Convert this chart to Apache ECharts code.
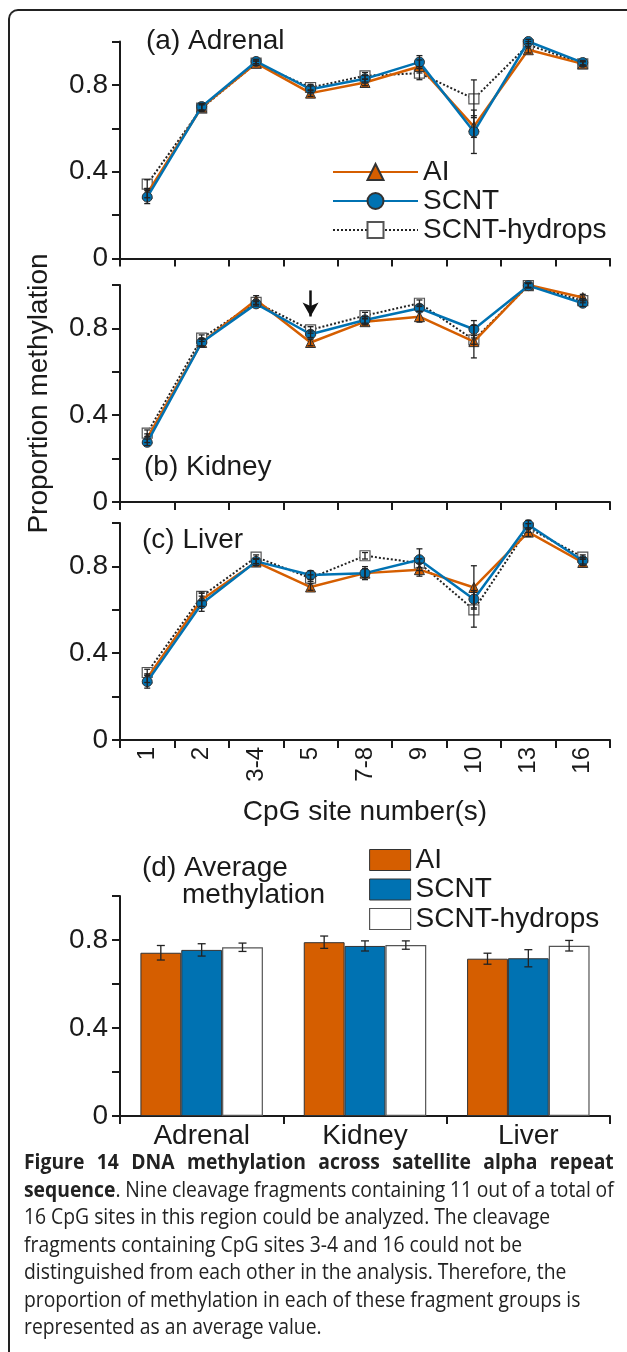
<!DOCTYPE html>
<html>
<head>
<meta charset="utf-8">
<script src="https://cdn.jsdelivr.net/npm/echarts@6/dist/echarts.min.js"></script>
<style>
  html, body { margin: 0; padding: 0; background: #fff; overflow: hidden; }
  #frame { position: absolute; left: 8px; top: 9px; width: 700px; height: 1400px;
    border-top: 2px solid #222; border-left: 2px solid #222; border-top-left-radius: 10px; }
  #chart { position: absolute; left: 0; top: 0; width: 627px; height: 1352px; }
  #caption { position: absolute; left: 24px; top: 1148px; width: 641px;
    font-family: 'Open Sans', sans-serif; font-size: 21px; line-height: 27.5px; color: #222;
    transform: scaleX(0.92); transform-origin: 0 0; }
  #caption div { white-space: nowrap; }
  #caption .just { text-align: justify; text-align-last: justify; white-space: normal; word-spacing: -3px; }
</style>
</head>
<body>
<div id="frame"></div>
<div id="chart"></div>
<div id="caption">
  <div class="just"><b>Figure 14 DNA methylation across satellite alpha repeat</b></div>
  <div class="just"><b>sequence</b>. Nine cleavage fragments containing 11 out of a total of</div>
  <div>16 CpG sites in this region could be analyzed. The cleavage</div>
  <div>fragments containing CpG sites 3-4 and 16 could not be</div>
  <div>distinguished from each other in the analysis. Therefore, the</div>
  <div>proportion of methylation in each of these fragment groups is</div>
  <div>represented as an average value.</div>
</div>
<script>
// CpG sites (x categories of panels a-c)
const sites = ['1', '2', '3-4', '5', '7-8', '9', '10', '13', '16'];

// (a) Adrenal
const adrenalAI = [0.30, 0.697, 0.90, 0.762, 0.811, 0.885, 0.608, 0.962, 0.897];
const adrenalSCNT = [0.283, 0.70, 0.908, 0.78, 0.828, 0.905, 0.584, 1.0, 0.903];
const adrenalHyd = [0.343, 0.693, 0.90, 0.788, 0.842, 0.854, 0.736, 0.985, 0.897];
const adrenalAIErr = [0.02, 0.015, 0.01, 0.015, 0.015, 0.03, 0.05, 0.015, 0.01];
const adrenalSCNTErr = [0.03, 0.015, 0.01, 0.015, 0.015, 0.03, 0.10, 0.01, 0.01];
const adrenalHydErr = [0.02, 0.015, 0.01, 0.015, 0.015, 0.03, 0.087, 0.015, 0.01];

// (b) Kidney
const kidneyAI = [0.294, 0.735, 0.931, 0.735, 0.831, 0.854, 0.739, 1.0, 0.942];
const kidneySCNT = [0.275, 0.735, 0.913, 0.773, 0.839, 0.893, 0.796, 0.997, 0.916];
const kidneyHyd = [0.317, 0.755, 0.92, 0.793, 0.859, 0.916, 0.747, 0.997, 0.928];
const kidneyAIErr = [0.02, 0.02, 0.02, 0.015, 0.015, 0.025, 0.075, 0.01, 0.015];
const kidneySCNTErr = [0.015, 0.015, 0.01, 0.015, 0.015, 0.015, 0.04, 0.01, 0.015];
const kidneyHydErr = [0.015, 0.015, 0.01, 0.015, 0.015, 0.015, 0.02, 0.01, 0.01];

// (c) Liver
const liverAI = [0.285, 0.646, 0.82, 0.705, 0.769, 0.785, 0.703, 0.958, 0.818];
const liverSCNT = [0.269, 0.628, 0.823, 0.76, 0.769, 0.831, 0.649, 0.992, 0.826];
const liverHyd = [0.311, 0.662, 0.843, 0.746, 0.849, 0.815, 0.60, 0.977, 0.843];
const liverAIErr = [0.02, 0.03, 0.015, 0.015, 0.02, 0.03, 0.10, 0.02, 0.015];
const liverSCNTErr = [0.03, 0.035, 0.01, 0.02, 0.03, 0.05, 0.04, 0.02, 0.015];
const liverHydErr = [0.015, 0.02, 0.01, 0.015, 0.015, 0.02, 0.08, 0.02, 0.01];

// (d) Average methylation
const tissues = ['Adrenal', 'Kidney', 'Liver'];
const avgAI = [0.742, 0.79, 0.715];
const avgSCNT = [0.755, 0.773, 0.717];
const avgHyd = [0.767, 0.777, 0.774];
const avgAIErr = [0.033, 0.028, 0.025];
const avgSCNTErr = [0.028, 0.023, 0.039];
const avgHydErr = [0.019, 0.019, 0.024];

const yTicks = ['0', '0.4', '0.8'];

const ORANGE = '#d55e00';
const BLUE = '#0072b2';
const INK = '#1a1a1a';
const FONT = '"Liberation Sans", Arial, Helvetica';

var myChart = echarts.init(document.getElementById('chart'));

function yAxisOf(gridIndex, extra) {
  return Object.assign({
    type: 'value', gridIndex: gridIndex, min: 0, max: 1, interval: 0.2,
    splitLine: { show: false },
    axisLine: { show: true, lineStyle: { color: INK, width: 2 } },
    axisTick: { show: true, length: 8, lineStyle: { color: INK, width: 2 } },
    axisLabel: {
      fontSize: 28, fontFamily: FONT, color: INK, margin: 12,
      formatter: function (v) {
        const s = String(Math.round(v * 10) / 10);
        return yTicks.indexOf(s) >= 0 ? s : '';
      }
    }
  }, extra || {});
}

function xAxisOf(gridIndex, data, labels, extra) {
  return Object.assign({
    type: 'category', gridIndex: gridIndex, data: data, boundaryGap: true,
    axisLine: { show: true, lineStyle: { color: INK, width: 2 } },
    axisTick: { show: true, length: 8, interval: 0, lineStyle: { color: INK, width: 2 } },
    axisLabel: labels
  }, extra || {});
}

function lineSeries(name, idx, data) {
  const base = { name: name, type: 'line', xAxisIndex: idx, yAxisIndex: idx, data: data, symbolSize: 10 };
  if (name === 'AI') {
    return Object.assign(base, { z: 3, symbol: 'triangle', color: ORANGE,
      lineStyle: { color: ORANGE, width: 2.5 },
      itemStyle: { color: ORANGE, borderColor: '#333', borderWidth: 1 } });
  }
  if (name === 'SCNT') {
    return Object.assign(base, { z: 4, symbol: 'circle', color: BLUE,
      lineStyle: { color: BLUE, width: 2.5 },
      itemStyle: { color: BLUE, borderColor: '#333', borderWidth: 1 } });
  }
  return Object.assign(base, { z: 2, symbol: 'rect', symbolSize: 10, color: '#222',
    lineStyle: { color: '#222', width: 2, type: 'dotted' },
    itemStyle: { color: '#fff', borderColor: '#555', borderWidth: 1.2 } });
}

function errSeries(idx, values, errs, offsetFrac, cap) {
  return {
    type: 'custom', xAxisIndex: idx, yAxisIndex: idx, z: 6, silent: true,
    data: values.map(function (v, i) { return [i, v, errs[i]]; }),
    encode: { x: 0, y: 1 },
    renderItem: function (params, api) {
      const i = api.value(0), v = api.value(1), e = api.value(2);
      const top = api.coord([i, v + e]);
      const bot = api.coord([i, v - e]);
      const w = api.size([1, 0])[0];
      const x = top[0] + w * offsetFrac;
      const st = { stroke: '#222', lineWidth: 1.3 };
      return { type: 'group', children: [
        { type: 'line', shape: { x1: x, y1: top[1], x2: x, y2: bot[1] }, style: st },
        { type: 'line', shape: { x1: x - cap, y1: top[1], x2: x + cap, y2: top[1] }, style: st },
        { type: 'line', shape: { x1: x - cap, y1: bot[1], x2: x + cap, y2: bot[1] }, style: st }
      ] };
    }
  };
}

var option;
option = {
  animation: false,
  backgroundColor: 'transparent',
  textStyle: { fontFamily: FONT, color: INK },
  grid: [
    { left: 120, top: 41.5, width: 490, height: 217 },
    { left: 120, top: 285, width: 490, height: 217 },
    { left: 120, top: 523, width: 490, height: 217 },
    { left: 120, top: 896, width: 490, height: 220 }
  ],
  xAxis: [
    xAxisOf(0, sites, { show: false }),
    xAxisOf(1, sites, { show: false }),
    xAxisOf(2, sites, { show: true, interval: 0, rotate: 90, fontSize: 24, fontFamily: FONT, color: INK, margin: 7 }, {
      name: 'CpG site number(s)', nameLocation: 'middle', nameGap: 58,
      nameTextStyle: { fontSize: 28, fontFamily: FONT, color: INK }
    }),
    xAxisOf(3, tissues, { show: true, interval: 0, fontSize: 28, fontFamily: FONT, color: INK, margin: 6 })
  ],
  yAxis: [
    yAxisOf(0),
    yAxisOf(1, {
      name: 'Proportion methylation', nameLocation: 'middle', nameRotate: 90, nameGap: 67,
      nameTextStyle: { fontSize: 28, fontFamily: FONT, color: INK }
    }),
    yAxisOf(2),
    yAxisOf(3)
  ],
  legend: [
    {
      left: 332, top: 158, orient: 'vertical', padding: 0, itemGap: 1,
      itemWidth: 85, itemHeight: 20,
      data: ['AI', 'SCNT', 'SCNT-hydrops'],
      textStyle: { fontSize: 28, fontFamily: FONT, color: INK, lineHeight: 28 }
    },
    {
      left: 369, top: 846, orient: 'vertical', padding: 0, itemGap: 1.5,
      itemWidth: 41, itemHeight: 21,
      data: [
        { name: 'AI', icon: 'rect', itemStyle: { color: ORANGE, borderColor: '#333', borderWidth: 1 } },
        { name: 'SCNT', icon: 'rect', itemStyle: { color: BLUE, borderColor: '#333', borderWidth: 1 } },
        { name: 'SCNT-hydrops', icon: 'rect', itemStyle: { color: '#fff', borderColor: '#555', borderWidth: 1.2 } }
      ],
      textStyle: { fontSize: 28, fontFamily: FONT, color: INK, lineHeight: 28 }
    }
  ],
  graphic: [
    { type: 'text', x: 146, y: 41, style: { text: '(a) Adrenal', fontSize: 28, fontFamily: FONT, fill: INK, verticalAlign: 'middle' } },
    { type: 'text', x: 144, y: 467, style: { text: '(b) Kidney', fontSize: 28, fontFamily: FONT, fill: INK, verticalAlign: 'middle' } },
    { type: 'text', x: 142, y: 540, style: { text: '(c) Liver', fontSize: 28, fontFamily: FONT, fill: INK, verticalAlign: 'middle' } },
    { type: 'text', x: 142, y: 868, style: { text: '(d) Average', fontSize: 28, fontFamily: FONT, fill: INK, verticalAlign: 'middle' } },
    { type: 'text', x: 182, y: 895, style: { text: 'methylation', fontSize: 28, fontFamily: FONT, fill: INK, verticalAlign: 'middle' } }
  ],
  series: [
    lineSeries('SCNT-hydrops', 0, adrenalHyd),
    lineSeries('AI', 0, adrenalAI),
    lineSeries('SCNT', 0, adrenalSCNT),
    Object.assign(lineSeries('SCNT-hydrops', 1, kidneyHyd), {
      markLine: {
        silent: true, symbol: ['none', 'arrow'], symbolSize: [12, 14],
        label: { show: false },
        lineStyle: { color: '#111', width: 2.5, type: 'solid' },
        data: [[{ coord: [3, 0.975] }, { coord: [3, 0.855] }]]
      }
    }),
    lineSeries('AI', 1, kidneyAI),
    lineSeries('SCNT', 1, kidneySCNT),
    lineSeries('SCNT-hydrops', 2, liverHyd),
    lineSeries('AI', 2, liverAI),
    lineSeries('SCNT', 2, liverSCNT),
    errSeries(0, adrenalAI, adrenalAIErr, 0, 3),
    errSeries(0, adrenalSCNT, adrenalSCNTErr, 0, 3),
    errSeries(0, adrenalHyd, adrenalHydErr, 0, 3),
    errSeries(1, kidneyAI, kidneyAIErr, 0, 3),
    errSeries(1, kidneySCNT, kidneySCNTErr, 0, 3),
    errSeries(1, kidneyHyd, kidneyHydErr, 0, 3),
    errSeries(2, liverAI, liverAIErr, 0, 3),
    errSeries(2, liverSCNT, liverSCNTErr, 0, 3),
    errSeries(2, liverHyd, liverHydErr, 0, 3),
    {
      name: 'AI', type: 'bar', xAxisIndex: 3, yAxisIndex: 3, data: avgAI,
      barGap: 0, barCategoryGap: '25%',
      itemStyle: { color: ORANGE, borderColor: '#333', borderWidth: 1 }
    },
    {
      name: 'SCNT', type: 'bar', xAxisIndex: 3, yAxisIndex: 3, data: avgSCNT,
      barGap: 0, barCategoryGap: '25%',
      itemStyle: { color: BLUE, borderColor: '#333', borderWidth: 1 }
    },
    {
      name: 'SCNT-hydrops', type: 'bar', xAxisIndex: 3, yAxisIndex: 3, data: avgHyd,
      barGap: 0, barCategoryGap: '25%',
      itemStyle: { color: '#fff', borderColor: '#555', borderWidth: 1.2 }
    },
    errSeries(3, avgAI, avgAIErr, -0.25, 4),
    errSeries(3, avgSCNT, avgSCNTErr, 0, 4),
    errSeries(3, avgHyd, avgHydErr, 0.25, 4)
  ]
};

option && myChart.setOption(option);
</script>
</body>
</html>
